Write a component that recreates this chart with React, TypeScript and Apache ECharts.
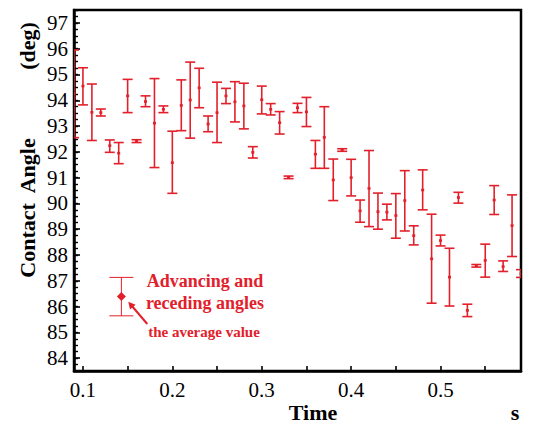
import React, { useEffect, useRef } from "react";
import * as echarts from "echarts";

// Time (s)
const times = [
  0.09, 0.1, 0.11, 0.12, 0.13, 0.14, 0.15, 0.16, 0.17, 0.18, 0.19, 0.2, 0.21,
  0.22, 0.23, 0.24, 0.25, 0.26, 0.27, 0.28, 0.29, 0.3, 0.31, 0.32, 0.33, 0.34,
  0.35, 0.36, 0.37, 0.38, 0.39, 0.4, 0.41, 0.42, 0.43, 0.44, 0.45, 0.46, 0.47,
  0.48, 0.49, 0.5, 0.51, 0.52, 0.53, 0.54, 0.55, 0.56, 0.57, 0.58, 0.59,
];
// receding angle (lower end of bar)
const lows = [
  92.55, 93.82, 92.44, 93.39, 91.98, 91.54, 93.52, 92.36, 93.75, 91.39, 93.52,
  90.39, 92.82, 92.53, 93.71, 92.78, 92.36, 93.87, 93.16, 92.89, 91.76, 93.47,
  93.43, 92.69, 90.96, 93.52, 92.98, 91.36, 91.36, 90.11, 92.02, 90.29, 89.27,
  89.1, 89.0, 89.36, 88.65, 88.93, 88.39, 89.75, 86.13, 88.35, 86.02, 90.01,
  85.61, 87.53, 87.14, 89.57, 87.36, 87.94, 87.13,
];
// average value
const means = [
  94.25, 94.55, 93.53, 93.52, 92.24, 91.95, 94.17, 92.42, 93.95, 93.11, 93.65,
  91.58, 93.8, 94.01, 94.48, 93.08, 93.52, 94.17, 93.94, 93.78, 91.98, 94.02,
  93.65, 93.13, 91.01, 93.71, 93.55, 91.91, 92.56, 90.91, 92.07, 91.0, 89.71,
  90.58, 89.68, 89.66, 89.53, 90.11, 88.75, 90.52, 87.85, 88.56, 87.14, 90.23,
  85.85, 87.58, 87.79, 90.13, 87.55, 89.14, 87.27,
];
// advancing angle (upper end of bar)
const highs = [
  95.95, 95.26, 94.63, 93.66, 92.46, 92.36, 94.81, 92.47, 94.17, 94.84, 93.78,
  92.8, 94.79, 95.48, 95.24, 93.39, 94.7, 94.46, 94.72, 94.66, 92.2, 94.55,
  93.87, 93.56, 91.06, 93.88, 94.11, 92.44, 93.75, 91.72, 92.12, 91.71, 90.13,
  92.05, 90.4, 89.97, 90.38, 91.27, 89.13, 91.3, 89.58, 88.77, 88.26, 90.43,
  86.09, 87.63, 88.42, 90.69, 87.77, 90.33, 87.43,
];

// legend sample bar: [time, low, mean, high]
const legendSample = [0.143, 85.64, 86.39, 87.13];

const yTickLabels = [84, 85, 86, 87, 88, 89, 90, 91, 92, 93, 94, 95, 96, 97];
const xTickLabels = [0.1, 0.2, 0.3, 0.4, 0.5];
const xTicks = [0.1, 0.15, 0.2, 0.25, 0.3, 0.35, 0.4, 0.45, 0.5, 0.55];

const RED = "#e2202b";
const FONT = "'Liberation Serif', 'Times New Roman', serif";

export default function App() {
  const ref = useRef<HTMLDivElement>(null);

  useEffect(() => {
    if (!ref.current) return;
    const chart = echarts.init(ref.current, null, { renderer: "svg" });

    const barData = times.map((t, i) => [t, lows[i], means[i], highs[i]]);

    const option: any = {
      animation: false,
      backgroundColor: "#fff",
      grid: {
        left: 74,
        top: 10,
        right: 16,
        bottom: 53,
        show: true,
        borderColor: "#000",
        borderWidth: 2.5,
        backgroundColor: "#fff",
      },
      xAxis: {
        type: "value",
        min: 0.09,
        max: 0.59,
        axisLine: { show: true, onZero: false, lineStyle: { color: "#000", width: 2.5 } },
        axisTick: {
          show: true,
          inside: true,
          length: 5,
          customValues: xTicks,
          lineStyle: { color: "#000", width: 1.6 },
        },
        axisLabel: {
          customValues: xTickLabels,
          formatter: (v: number) => v.toFixed(1),
          fontFamily: FONT,
          fontSize: 21,
          color: "#000",
          margin: 8,
        },
        splitLine: { show: false },
      },
      yAxis: [
        {
          type: "value",
          min: 83.5,
          max: 97.5,
          position: "left",
          axisLine: { show: true, onZero: false, lineStyle: { color: "#000", width: 2.5 } },
          axisTick: {
            show: true,
            inside: true,
            length: 6,
            customValues: yTickLabels,
            lineStyle: { color: "#000", width: 1.6 },
          },
          axisLabel: {
            customValues: yTickLabels,
            fontFamily: FONT,
            fontSize: 21,
            color: "#000",
            margin: 6,
          },
          splitLine: { show: false },
        },
        {
          type: "value",
          min: 83.5,
          max: 97.5,
          interval: 0.25,
          position: "left",
          offset: 0,
          axisLine: { show: false, onZero: false },
          axisTick: {
            show: true,
            inside: true,
            length: 4,
            lineStyle: { color: "#000", width: 1.4 },
          },
          axisLabel: { show: false },
          splitLine: { show: false },
        },
      ],
      series: [
        {
          type: "custom",
          name: "contact angle",
          clip: true,
          data: barData,
          encode: { x: 0, y: [1, 2, 3] },
          renderItem: (params: any, api: any) => {
            const t = api.value(0);
            const lo = api.coord([t, api.value(1)]);
            const me = api.coord([t, api.value(2)]);
            const hi = api.coord([t, api.value(3)]);
            const hw = 5;
            const st = { stroke: RED, lineWidth: 1.6 };
            return {
              type: "group",
              children: [
                { type: "line", shape: { x1: lo[0], y1: lo[1], x2: hi[0], y2: hi[1] }, style: st },
                { type: "line", shape: { x1: hi[0] - hw, y1: hi[1], x2: hi[0] + hw, y2: hi[1] }, style: st },
                { type: "line", shape: { x1: lo[0] - hw, y1: lo[1], x2: lo[0] + hw, y2: lo[1] }, style: st },
                { type: "rect", shape: { x: me[0] - 1.5, y: me[1] - 1.3, width: 3, height: 2.6 }, style: { fill: RED } },
              ],
            };
          },
        },
        {
          type: "custom",
          name: "legend sample",
          clip: false,
          data: [legendSample],
          encode: { x: 0, y: [1, 2, 3] },
          renderItem: (params: any, api: any) => {
            const t = api.value(0);
            const lo = api.coord([t, api.value(1)]);
            const me = api.coord([t, api.value(2)]);
            const hi = api.coord([t, api.value(3)]);
            const hw = 12;
            const st = { stroke: RED, lineWidth: 1 };
            const d = 4.5;
            return {
              type: "group",
              children: [
                { type: "line", shape: { x1: lo[0], y1: lo[1], x2: hi[0], y2: hi[1] }, style: st },
                { type: "line", shape: { x1: hi[0] - hw, y1: hi[1], x2: hi[0] + hw, y2: hi[1] }, style: st },
                { type: "line", shape: { x1: lo[0] - hw, y1: lo[1], x2: lo[0] + hw, y2: lo[1] }, style: st },
                {
                  type: "polygon",
                  shape: { points: [[me[0], me[1] - d], [me[0] + d, me[1]], [me[0], me[1] + d], [me[0] - d, me[1]]] },
                  style: { fill: RED },
                },
              ],
            };
          },
        },
      ],
      graphic: [
        {
          type: "text",
          x: 27,
          y: 208,
          rotation: Math.PI / 2,
          style: {
            text: "Contact  Angle",
            font: `bold 22px ${FONT}`,
            fill: "#000",
            align: "center",
            verticalAlign: "middle",
          },
        },
        {
          type: "text",
          x: 27,
          y: 46,
          rotation: Math.PI / 2,
          style: {
            text: "(deg)",
            font: `bold 22px ${FONT}`,
            fill: "#000",
            align: "center",
            verticalAlign: "middle",
          },
        },
        {
          type: "text",
          x: 313,
          y: 412,
          style: {
            text: "Time",
            font: `bold 22px ${FONT}`,
            fill: "#000",
            align: "center",
            verticalAlign: "middle",
          },
        },
        {
          type: "text",
          x: 515,
          y: 412,
          style: {
            text: "s",
            font: `bold 22px ${FONT}`,
            fill: "#000",
            align: "center",
            verticalAlign: "middle",
          },
        },
        {
          type: "text",
          x: 205,
          y: 281,
          style: {
            text: "Advancing and",
            font: `bold 18px ${FONT}`,
            fill: RED,
            align: "center",
            verticalAlign: "middle",
          },
        },
        {
          type: "text",
          x: 205,
          y: 303,
          style: {
            text: "receding angles",
            font: `bold 18px ${FONT}`,
            fill: RED,
            align: "center",
            verticalAlign: "middle",
          },
        },
        {
          type: "text",
          x: 204,
          y: 332,
          style: {
            text: "the average value",
            font: `bold 15px ${FONT}`,
            fill: RED,
            align: "center",
            verticalAlign: "middle",
          },
        },
        {
          type: "line",
          shape: { x1: 147.3, y1: 324, x2: 131.5, y2: 305.5 },
          style: { stroke: RED, lineWidth: 2 },
        },
        {
          type: "polygon",
          shape: { points: [[128.3, 301.7], [135.6, 304.7], [130.0, 309.5]] },
          style: { fill: RED },
        },
      ],
    };

    chart.setOption(option);
    return () => chart.dispose();
  }, []);

  return (
    <div
      ref={ref}
      style={{ position: "fixed", left: 0, top: 0, width: 537, height: 424, background: "#fff" }}
    />
  );
}
